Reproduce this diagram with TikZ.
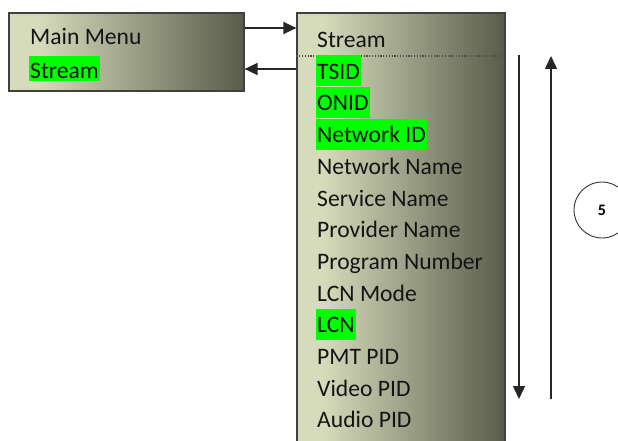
\documentclass[tikz,border=0pt]{standalone}
\usepackage{fontspec}
\setmainfont{Carlito}
\usetikzlibrary{arrows.meta}
\definecolor{boxlight}{RGB}{214,219,187}
\definecolor{boxdark}{RGB}{88,92,74}
\definecolor{hl}{RGB}{0,255,0}
\definecolor{edge}{RGB}{64,64,64}
\definecolor{txt}{RGB}{20,20,20}
\pgfdeclarehorizontalshading{boxshade}{100bp}{color(0bp)=(boxlight); color(25bp)=(boxlight); color(31bp)=(boxlight); color(75bp)=(boxdark); color(100bp)=(boxdark)}
\tikzset{
  menubox/.style={draw=edge, line width=1.2pt, shading=boxshade, shading angle=0, inner sep=0pt},
  item/.style={anchor=base west, inner xsep=1pt, inner ysep=0pt, text height=24pt, text depth=7pt, text=txt, font=\fontsize{23.6}{28}\selectfont},
  litem/.style={item, text height=23pt, text depth=2.5pt},
  hlon/.style={fill=hl},
  arr/.style={line width=1.5pt, draw=black!85, -{Triangle[length=13pt,width=12pt]}},
}
\begin{document}
\begin{tikzpicture}[x=1pt,y=-1pt]
\useasboundingbox (0,0) rectangle (618,441);
\clip (0,0) rectangle (618,441);
% boxes
\node[menubox, minimum width=235pt, minimum height=78pt] (mm) at (126.5,52) {};
\node[menubox, minimum width=208pt, minimum height=447pt] (sb) at (401,236.5) {};
\draw[dash pattern=on 1.2pt off 1.6pt, line width=1.1pt, draw=black!70] (sb.west |- 0,56) -- (sb.east |- 0,56);
% left box items
\node[litem] (lmain) at (29,45) {Main Menu};
\node[litem, hlon] (lstream) at (29,79) {Stream};
% right box items
\node[item] (r0) at (316,47.5) {Stream};
\node[item, hlon] (r1) at (316,79.2) {TSID};
\node[item, hlon] (r2) at (316,110.9) {ONID};
\node[item, hlon] (r3) at (316,142.6) {Network ID};
\node[item] (r4) at (316,174.3) {Network Name};
\node[item] (r5) at (316,206) {Service Name};
\node[item] (r6) at (316,237.7) {Provider Name};
\node[item] (r7) at (316,269.4) {Program Number};
\node[item] (r8) at (316,301.1) {LCN Mode};
\node[item, hlon] (r9) at (316,332.8) {LCN};
\node[item] (r10) at (316,364.5) {PMT PID};
\node[item] (r11) at (316,396.2) {Video PID};
\node[item] (r12) at (316,427.9) {Audio PID};
% connectors between boxes
\draw[arr] (mm.east |- 0,28) -- (sb.west |- 0,28);
\draw[arr] (sb.west |- 0,69) -- (mm.east |- 0,69);
% scroll arrows
\coordinate (dtop) at (519,55);
\coordinate (dbot) at (519,399);
\coordinate (utop) at (551,56);
\coordinate (ubot) at (551,399);
\draw[arr] (dtop) -- (dbot);
\draw[arr] (ubot) -- (utop);
% step circle
\node[circle, draw=black!80, line width=0.9pt, minimum size=56pt, inner sep=0pt, font=\fontsize{16}{18}\selectfont\bfseries] (c5) at (602,210) {5};
\end{tikzpicture}
\end{document}
